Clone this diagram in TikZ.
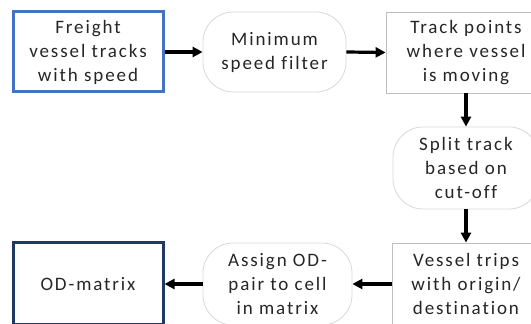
\documentclass[tikz,border=0pt]{standalone}
\usepackage{fontspec}
\setmainfont[LetterSpace=10,Ligatures={NoCommon}]{Carlito}
\usetikzlibrary{arrows.meta}
\definecolor{inblue}{HTML}{4472C4}
\definecolor{outnavy}{HTML}{1F3864}
\definecolor{boxgray}{HTML}{BFBFBF}
\definecolor{softgray}{HTML}{D9D9D9}
\definecolor{txt}{HTML}{262626}
\tikzset{
  base/.style={align=center, text=txt, inner sep=0pt,
    font=\fontsize{19}{24}\selectfont},
  inbox/.style={base, draw=inblue, line width=3pt},
  outbox/.style={base, draw=outnavy, line width=3pt},
  procbox/.style={base, draw=boxgray, line width=0.8pt},
  softbox/.style={base, draw=softgray, line width=0.8pt, rounded corners=30pt},
  flow/.style={line width=3.2pt, -{Triangle[length=10pt,width=10pt]}}
}
\begin{document}
\begin{tikzpicture}[x=1pt,y=1pt]
\useasboundingbox (0,0) rectangle (531,324);
\clip (0,0) rectangle (531,324);
\fill[white] (0,0) rectangle (531,324);
% top row
\node[inbox, minimum width=150pt, minimum height=80pt] (src) at (88,272)
  {Freight\\vessel tracks\\with speed};
\node[softbox, minimum width=143pt, minimum height=80pt] (filt) at (274.5,272)
  {Minimum\\speed filter};
\node[procbox, minimum width=160pt, minimum height=81pt] (moving) at (466,271.5)
  {Track points\\where vessel\\is moving};
% right column
\node[softbox, minimum width=146pt, minimum height=82pt] (split) at (466,156)
  {Split track\\based on\\cut-off};
\node[procbox, minimum width=148pt, minimum height=82pt] (trips) at (466,40)
  {Vessel trips\\with origin/\\destination};
% bottom row
\node[softbox, minimum width=149pt, minimum height=82pt] (assign) at (277.5,40)
  {Assign OD-\\pair to cell\\in matrix};
\node[outbox, minimum width=150pt, minimum height=82pt] (odm) at (88,40)
  {OD-matrix};
% connectors
\draw[flow] (src.east) -- (filt.west);
\draw[flow] (filt.east) -- (moving.west);
\draw[flow] (moving.south) -- (split.north);
\draw[flow] (split.south) -- (trips.north);
\draw[flow] (trips.west) -- (assign.east);
\draw[flow] (assign.west) -- (odm.east);
\end{tikzpicture}
\end{document}
